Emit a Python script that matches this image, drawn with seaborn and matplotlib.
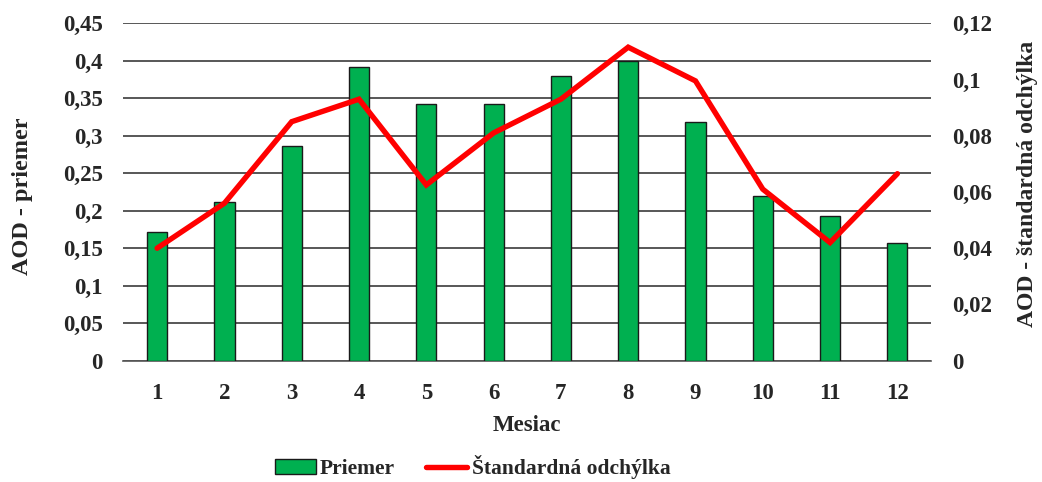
import numpy as np
import pandas as pd
import matplotlib
matplotlib.use("Agg")
import matplotlib.pyplot as plt
import seaborn as sns
from matplotlib.patches import Patch
from matplotlib.lines import Line2D

months = ["1", "2", "3", "4", "5", "6", "7", "8", "9", "10", "11", "12"]
priemer = [0.171, 0.212, 0.286, 0.392, 0.343, 0.343, 0.380, 0.400, 0.318, 0.219, 0.193, 0.157]
odchylka = [0.040, 0.056, 0.085, 0.093, 0.0625, 0.081, 0.093, 0.1115, 0.0995, 0.061, 0.042, 0.0665]

left_ticks = [0, 0.05, 0.1, 0.15, 0.2, 0.25, 0.3, 0.35, 0.4, 0.45]
right_ticks = [0, 0.02, 0.04, 0.06, 0.08, 0.1, 0.12]

def comma(v):
    s = f"{v:g}"
    return s.replace(".", ",")

df = pd.DataFrame({"Mesiac": months, "Priemer": priemer, "Odchylka": odchylka})

sns.set_theme(style="white")
plt.rcParams["font.family"] = ["Liberation Serif", "DejaVu Serif"]
plt.rcParams["font.weight"] = "bold"

fig = plt.figure(figsize=(10.42, 4.82), dpi=100)
ax = fig.add_axes([0.1185, 0.2517, 0.775, 0.7])

sns.barplot(data=df, x="Mesiac", y="Priemer", ax=ax, color="#00B050",
            width=0.3, edgecolor="#1a1a1a", linewidth=1.0, saturation=1, zorder=3)

ax.set_ylim(0, 0.45)
ax.set_xlim(-0.5, 11.5)
ax.set_yticks(left_ticks)
ax.set_yticklabels([comma(v) for v in left_ticks], fontsize=16.5, fontweight="bold")
ax.tick_params(axis="x", labelsize=16.5, pad=16, length=0)
ax.tick_params(axis="y", length=0, pad=15)
for lab in ax.get_xticklabels():
    lab.set_fontweight("bold")
ax.yaxis.grid(True, color="#2a2a2a", linewidth=1.1, zorder=0)
ax.set_axisbelow(True)
for s in ["top", "right", "left"]:
    ax.spines[s].set_visible(False)
ax.spines["bottom"].set_color("#555555")
ax.spines["bottom"].set_linewidth(1.2)
ax.set_xlabel("Mesiac", fontsize=16.5, fontweight="bold", labelpad=8)
ax.set_ylabel("AOD - priemer", fontsize=17.5, fontweight="bold")
ax.yaxis.set_label_coords(-0.112, 0.487)

ax2 = ax.twinx()
sns.pointplot(data=df, x="Mesiac", y="Odchylka", ax=ax2, color="#FF0000",
              markers="", linestyles="-", errorbar=None)
for ln in ax2.lines:
    ln.set_linewidth(3.9)
    ln.set_solid_joinstyle("miter")
ax2.set_ylim(0, 0.12)
ax2.set_xlim(-0.5, 11.5)
ax2.set_yticks(right_ticks)
ax2.set_yticklabels([comma(v) for v in right_ticks], fontsize=16.5, fontweight="bold")
ax2.tick_params(axis="y", length=0, pad=15)
for s in ["top", "right", "left", "bottom"]:
    ax2.spines[s].set_visible(False)
ax2.set_ylabel("AOD - štandardná odchýlka", fontsize=17, fontweight="bold")
ax2.yaxis.set_label_coords(1.107, 0.524)
ax2.grid(False)

handles = [Patch(facecolor="#00B050", edgecolor="#1a1a1a", linewidth=1.0),
           Line2D([0], [0], color="#FF0000", linewidth=3.9)]
fig.legend(handles, ["Priemer", "Štandardná odchýlka"], loc="center",
           bbox_to_anchor=(0.4535, 0.031), ncol=2, frameon=False,
           prop={"size": 15.5, "weight": "bold"}, handlelength=1.9,
           handletextpad=0.2, columnspacing=1.45)

fig.savefig("out.png", dpi=100)
